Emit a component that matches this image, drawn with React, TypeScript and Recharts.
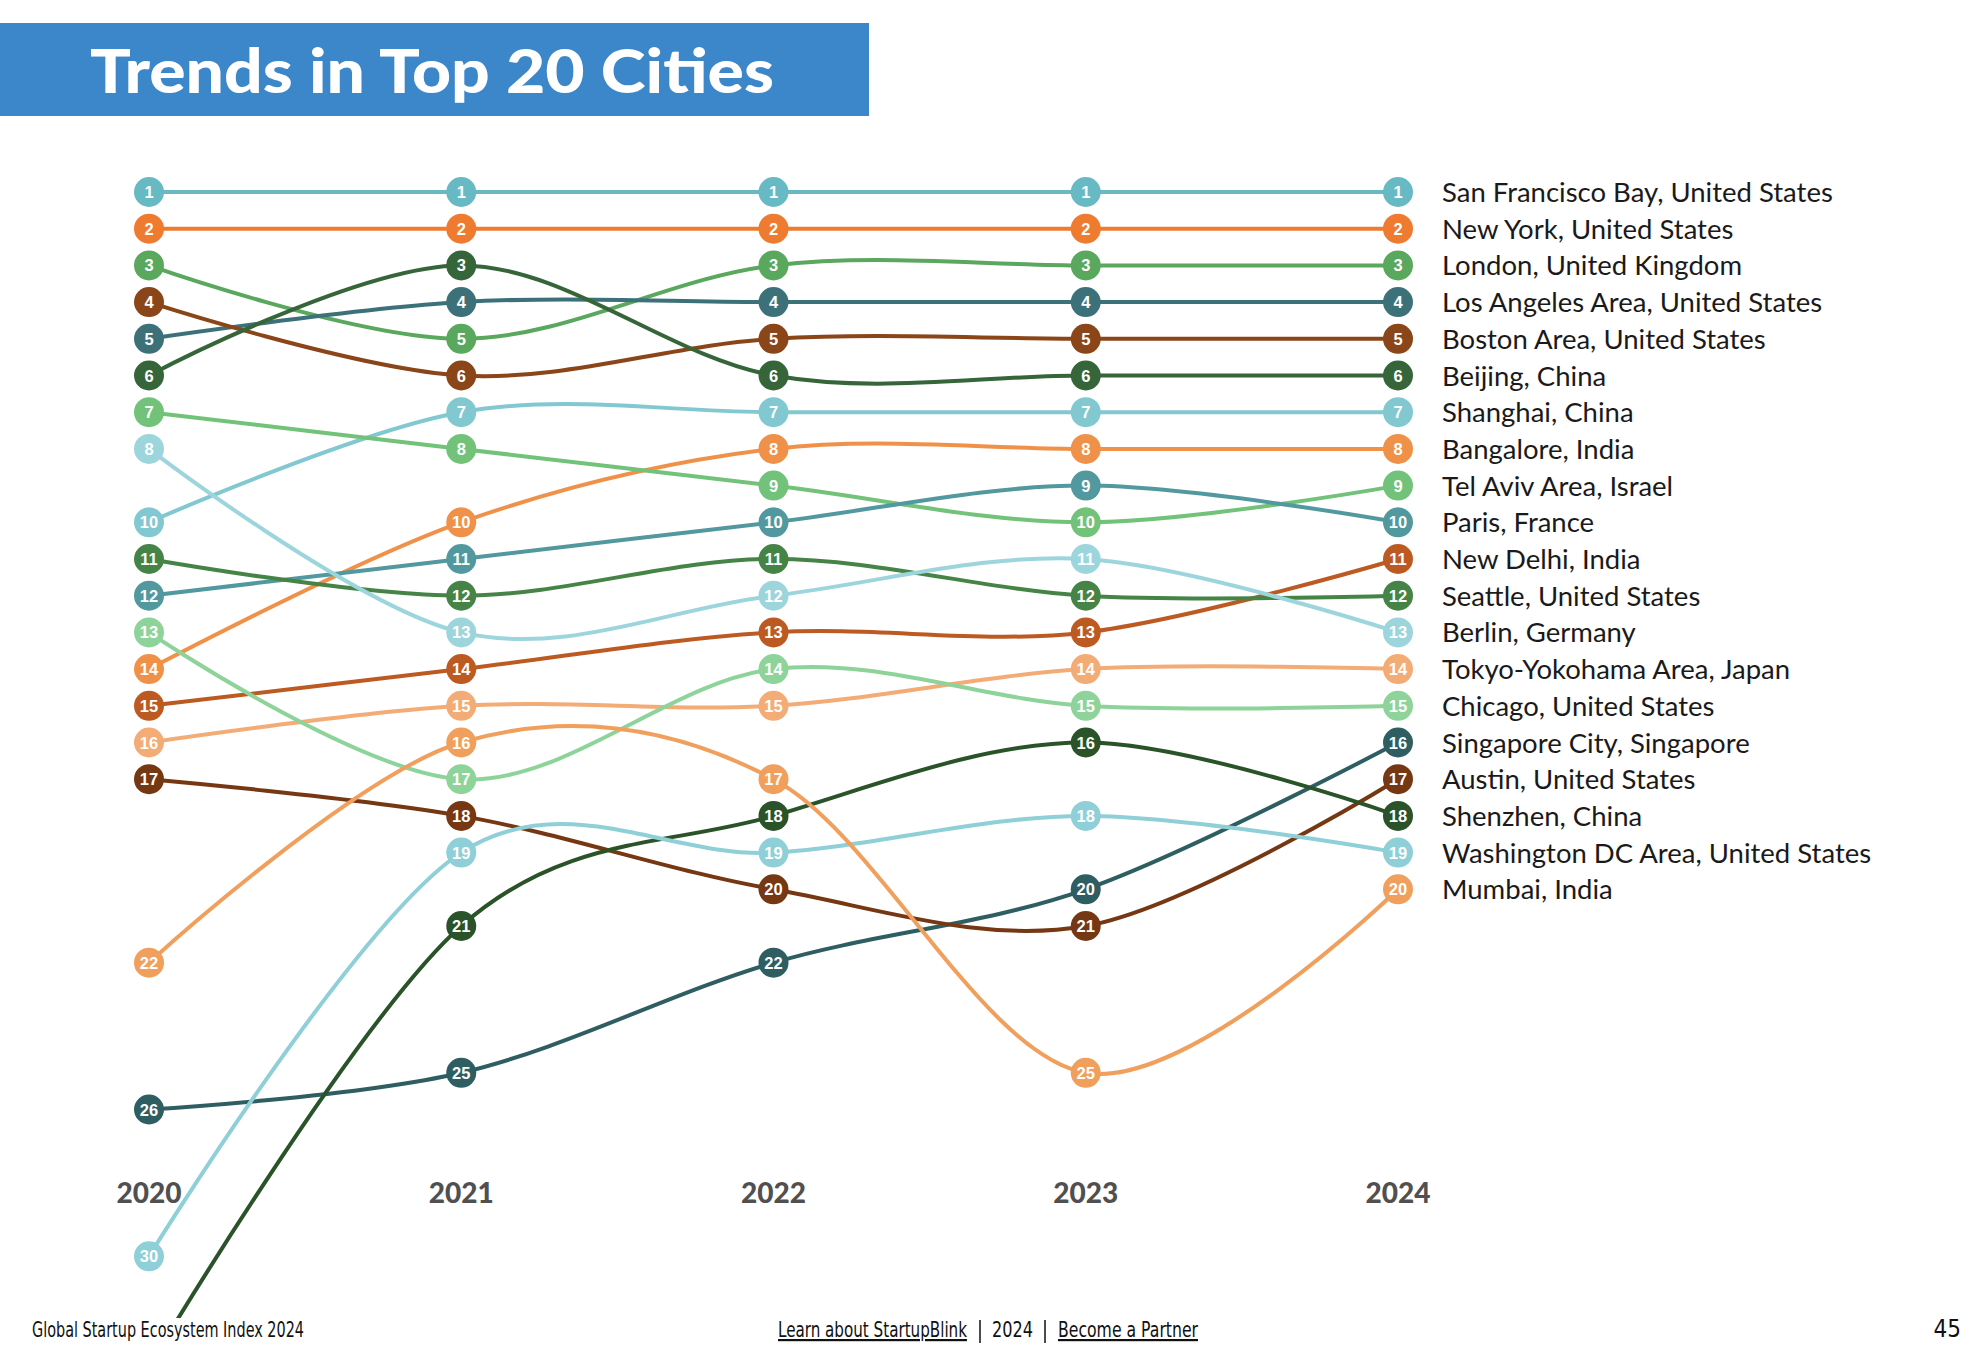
import React from "react";
import { LineChart, Line, XAxis, YAxis, LabelList } from "recharts";

const years = [2020, 2021, 2022, 2023, 2024];

const cityNames = [
  "San Francisco Bay, United States",
  "New York, United States",
  "London, United Kingdom",
  "Los Angeles Area, United States",
  "Boston Area, United States",
  "Beijing, China",
  "Shanghai, China",
  "Bangalore, India",
  "Tel Aviv Area, Israel",
  "Paris, France",
  "New Delhi, India",
  "Seattle, United States",
  "Berlin, Germany",
  "Tokyo-Yokohama Area, Japan",
  "Chicago, United States",
  "Singapore City, Singapore",
  "Austin, United States",
  "Shenzhen, China",
  "Washington DC Area, United States",
  "Mumbai, India",
];

// rank per year, 2020..2024
const sanFrancisco = [1, 1, 1, 1, 1];
const newYork = [2, 2, 2, 2, 2];
const london = [3, 5, 3, 3, 3];
const losAngeles = [5, 4, 4, 4, 4];
const boston = [4, 6, 5, 5, 5];
const beijing = [6, 3, 6, 6, 6];
const shanghai = [10, 7, 7, 7, 7];
const bangalore = [14, 10, 8, 8, 8];
const telAviv = [7, 8, 9, 10, 9];
const paris = [12, 11, 10, 9, 10];
const newDelhi = [15, 14, 13, 13, 11];
const seattle = [11, 12, 11, 12, 12];
const berlin = [8, 13, 12, 11, 13];
const tokyo = [16, 15, 15, 14, 14];
const chicago = [13, 17, 14, 15, 15];
const singapore = [26, 25, 22, 20, 16];
const austin = [17, 18, 20, 21, 17];
const shenzhen = [33, 21, 18, 16, 18];
const washington = [30, 19, 19, 18, 19];
const mumbai = [22, 16, 17, 25, 20];

const seriesValues = [
  sanFrancisco, newYork, london, losAngeles, boston, beijing, shanghai, bangalore,
  telAviv, paris, newDelhi, seattle, berlin, tokyo, chicago, singapore, austin,
  shenzhen, washington, mumbai,
];

const colors = [
  "#67b9c4", "#ee7b30", "#5aa75e", "#3d7179", "#8a4519", "#356538", "#82c8d0", "#f0914a",
  "#72c27a", "#52989f", "#bc5a22", "#458446", "#9dd5dd", "#f3ac76", "#8ed39a", "#2e5e62",
  "#763713", "#2a5329", "#8fcfd7", "#f09f5c",
];

const keys = cityNames.map((_, i) => `c${i}`);

const rows = years.map((year, i) => {
  const row: Record<string, number> = { year };
  seriesValues.forEach((vals, s) => {
    row[keys[s]] = vals[i];
  });
  return row;
});

// uniform Catmull-Rom (cardinal, tension 0)
function catmullRom(context: any) {
  const k = 1 / 6;
  let x0 = NaN, y0 = NaN, x1 = NaN, y1 = NaN, x2 = NaN, y2 = NaN, pt = 0;
  const seg = (x: number, y: number) =>
    context.bezierCurveTo(
      x1 + k * (x2 - x0), y1 + k * (y2 - y0),
      x2 + k * (x1 - x), y2 + k * (y1 - y),
      x2, y2
    );
  return {
    areaStart() {},
    areaEnd() {},
    lineStart() {
      x0 = x1 = x2 = y0 = y1 = y2 = NaN;
      pt = 0;
    },
    lineEnd() {
      if (pt === 2) context.lineTo(x2, y2);
      else if (pt === 3) seg(x1, y1);
    },
    point(x: number, y: number) {
      x = +x;
      y = +y;
      if (pt === 0) {
        pt = 1;
        context.moveTo(x, y);
      } else if (pt === 1) {
        pt = 2;
        x1 = x;
        y1 = y;
      } else {
        pt = 3;
        seg(x, y);
      }
      x0 = x1; x1 = x2; x2 = x;
      y0 = y1; y1 = y2; y2 = y;
    },
  };
}

const FONT = "Lato, 'Open Sans', sans-serif";
const NARROW = "'Liberation Sans Narrow', 'DejaVu Sans Condensed', sans-serif";
const YEAR_BASELINE = 1203;

const YearTick = (props: any) => {
  const { x, payload } = props;
  return (
    <text x={x} y={YEAR_BASELINE} textAnchor="middle" fill="#505050" fontSize={28} fontWeight={900} fontFamily={FONT}>
      {payload.value}
    </text>
  );
};

const makeDot = (color: string) => (props: any) => {
  const { cx, cy, value, index } = props;
  if (cx == null || cy == null) return <g key={`e-${index}`} />;
  return (
    <g key={`d-${index}`}>
      <circle cx={cx} cy={cy} r={15} fill={color} />
      <text
        x={cx}
        y={cy + 6}
        textAnchor="middle"
        fill="#ffffff"
        fontSize={16.5}
        fontWeight={700}
        fontFamily="'Liberation Sans', Arial, sans-serif"
      >
        {value}
      </text>
    </g>
  );
};

const makeLabel = (name: string) => (props: any) => {
  const { x, y, index } = props;
  if (index !== years.length - 1) return null;
  return (
    <text x={x + 44} y={y + 10} fill="#1a1a1a" fontSize={27.5} fontFamily={FONT}>
      {name}
    </text>
  );
};

export default function App() {
  return (
    <div style={{ position: "absolute", left: 0, top: 0, width: 1980, height: 1358, overflow: "hidden", background: "#fff" }}>
      <div style={{ position: "absolute", left: 0, top: 0, width: 1980, height: 1318, overflow: "hidden" }}>
        <LineChart
          width={1980}
          height={1670}
          data={rows}
          margin={{ top: 155.3, right: 582, left: 149, bottom: 16.7 }}
        >
          <XAxis
            dataKey="year"
            type="number"
            domain={[2020, 2024]}
            ticks={years}
            allowDecimals={false}
            axisLine={false}
            tickLine={false}
            height={30}
            interval={0}
            tick={YearTick}
          />
          <YAxis type="number" domain={[0, 40]} reversed hide width={0} />
          {keys.map((k, i) => (
            <Line
              key={`l-${k}`}
              dataKey={k}
              type={catmullRom as any}
              stroke={colors[i]}
              strokeWidth={4}
              dot={false}
              activeDot={false}
              isAnimationActive={false}
            />
          ))}
          {keys.map((k, i) => (
            <Line
              key={`p-${k}`}
              dataKey={k}
              stroke="none"
              dot={makeDot(colors[i])}
              activeDot={false}
              isAnimationActive={false}
            >
              <LabelList dataKey={k} content={makeLabel(cityNames[i])} />
            </Line>
          ))}
        </LineChart>
      </div>

      <svg width={1980} height={1358} style={{ position: "absolute", left: 0, top: 0, pointerEvents: "none" }}>
        <rect x={0} y={23} width={869} height={93} fill="#3c87c9" />
        <text
          x={90}
          y={93}
          fill="#ffffff"
          fontSize={60}
          fontWeight={900}
          fontFamily={FONT}
          textLength={684}
          lengthAdjust="spacingAndGlyphs"
        >
          Trends in Top 20 Cities
        </text>
        <text x={32} y={1337} fill="#111" fontSize={22} fontFamily={NARROW} textLength={272} lengthAdjust="spacingAndGlyphs">
          Global Startup Ecosystem Index 2024
        </text>
        <text x={778} y={1337} fill="#111" fontSize={22} fontFamily={NARROW} textLength={189} lengthAdjust="spacingAndGlyphs" textDecoration="underline">
          Learn about StartupBlink
        </text>
        <line x1={980} y1={1320} x2={980} y2={1343} stroke="#111" strokeWidth={1.5} />
        <text x={992} y={1337} fill="#111" fontSize={22} fontFamily={NARROW} textLength={41} lengthAdjust="spacingAndGlyphs">
          2024
        </text>
        <line x1={1045} y1={1320} x2={1045} y2={1343} stroke="#111" strokeWidth={1.5} />
        <text x={1058} y={1337} fill="#111" fontSize={22} fontFamily={NARROW} textLength={140} lengthAdjust="spacingAndGlyphs" textDecoration="underline">
          Become a Partner
        </text>
        <text x={1961} y={1337} textAnchor="end" fill="#111" fontSize={24} fontFamily={NARROW}>
          45
        </text>
      </svg>
    </div>
  );
}
